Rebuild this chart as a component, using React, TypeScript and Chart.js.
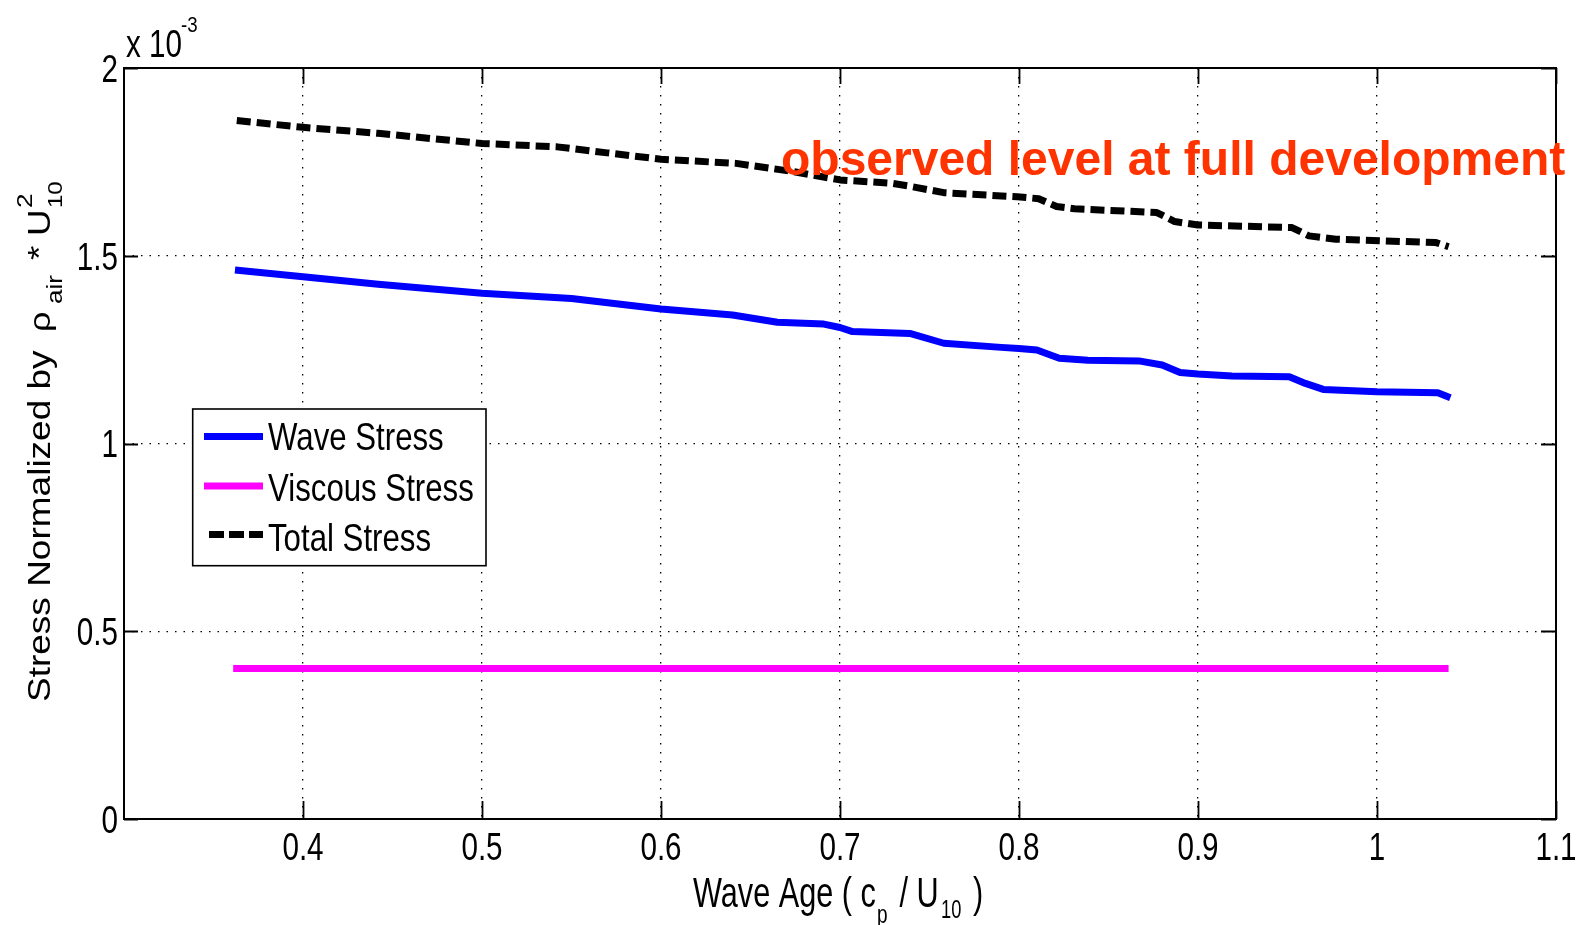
import { useEffect, useRef } from 'react';
import { Chart, registerables } from 'chart.js';

Chart.register(...registerables);

// ---- data (stress values in units of 1e-3) ----
const xTicks = [0.4, 0.5, 0.6, 0.7, 0.8, 0.9, 1.0, 1.1];
const xTickLabels = ['0.4', '0.5', '0.6', '0.7', '0.8', '0.9', '1', '1.1'];
const yTicks = [0, 0.5, 1, 1.5, 2];
const yTickLabels = ['0', '0.5', '1', '1.5', '2'];

const waveAgeWave = [0.362, 0.4, 0.442, 0.5, 0.55, 0.6, 0.64, 0.665, 0.691, 0.7, 0.707, 0.739, 0.758, 0.79, 0.8, 0.81, 0.8225, 0.8385, 0.867, 0.88, 0.89, 0.9, 0.919, 0.951, 0.96, 0.97, 1.0, 1.034, 1.041];
const waveStress = [1.462, 1.444, 1.424, 1.4, 1.386, 1.358, 1.342, 1.323, 1.318, 1.309, 1.298, 1.293, 1.267, 1.256, 1.253, 1.249, 1.227, 1.222, 1.22, 1.209, 1.189, 1.185, 1.18, 1.178, 1.16, 1.144, 1.138, 1.135, 1.122];

const waveAgeViscous = [0.361, 1.04];
const viscousStress = [0.401, 0.401];

const waveAgeTotal = [0.363, 0.4, 0.442, 0.5, 0.542, 0.57, 0.6, 0.642, 0.674, 0.7, 0.729, 0.738, 0.758, 0.799, 0.811, 0.821, 0.831, 0.877, 0.887, 0.9, 0.9525, 0.962, 0.977, 1.033, 1.04];
const totalStress = [1.86, 1.842, 1.826, 1.799, 1.79, 1.774, 1.757, 1.746, 1.724, 1.702, 1.693, 1.686, 1.668, 1.657, 1.652, 1.631, 1.625, 1.615, 1.591, 1.582, 1.575, 1.553, 1.544, 1.535, 1.524];

const seriesNames = ['Wave Stress', 'Viscous Stress', 'Total Stress'];
const seriesColors = ['#0000FF', '#FF00FF', '#000000'];
const annotationText = 'observed level at full development';

const FAMILY = "'Liberation Sans', Arial, Helvetica, sans-serif";

function zip(xs: number[], ys: number[]) {
  return xs.map((x, i) => ({ x, y: ys[i] }));
}

function txt(
  ctx: CanvasRenderingContext2D,
  t: string,
  x: number,
  y: number,
  size: number,
  sx: number,
  opts: { align?: CanvasTextAlign; rot?: boolean; bold?: boolean; color?: string } = {}
) {
  ctx.save();
  ctx.translate(x, y);
  if (opts.rot) {
    ctx.rotate(-Math.PI / 2);
    ctx.scale(1, sx);
  } else {
    ctx.scale(sx, 1);
  }
  ctx.font = `${opts.bold ? 'bold ' : ''}${size}px ${FAMILY}`;
  ctx.fillStyle = opts.color || '#000';
  ctx.textAlign = opts.align || 'left';
  ctx.textBaseline = 'alphabetic';
  ctx.fillText(t, 0, 0);
  ctx.restore();
}

const overlay = {
  id: 'matlabOverlay',
  afterDatasetsDraw(chart: any) {
    const { ctx, chartArea: a, scales } = chart;
    const xs = scales.x;
    const ys = scales.y;
    ctx.save();

    // box
    ctx.strokeStyle = '#000';
    ctx.lineWidth = 2;
    ctx.setLineDash([]);
    ctx.strokeRect(a.left, a.top, a.right - a.left, a.bottom - a.top);

    // inward tick marks
    ctx.lineWidth = 1.8;
    ctx.beginPath();
    xs.ticks.forEach((t: any) => {
      const px = Math.round(xs.getPixelForValue(t.value)) + 0.5;
      ctx.moveTo(px, a.bottom);
      ctx.lineTo(px, a.bottom - 18);
      ctx.moveTo(px, a.top);
      ctx.lineTo(px, a.top + 16);
    });
    ys.ticks.forEach((t: any) => {
      const py = Math.round(ys.getPixelForValue(t.value)) + 0.5;
      ctx.moveTo(a.left, py);
      ctx.lineTo(a.left + 14, py);
      ctx.moveTo(a.right, py);
      ctx.lineTo(a.right - 15, py);
    });
    ctx.stroke();

    // tick labels
    xs.ticks.forEach((t: any, i: number) => {
      const px = xs.getPixelForValue(t.value);
      txt(ctx, xTickLabels[i], px, a.bottom + 41, 39, 0.76, { align: 'center' });
    });
    ys.ticks.forEach((t: any, i: number) => {
      const py = ys.getPixelForValue(t.value);
      txt(ctx, yTickLabels[i], a.left - 6, py + 13.9, 39, 0.76, { align: 'right' });
    });

    // exponent label
    txt(ctx, 'x 10', a.left + 2, 56.7, 39, 0.76);
    txt(ctx, '-3', 181, 32, 22, 0.85);

    // x-axis title
    const bx = 907;
    txt(ctx, 'Wave Age ( c', 693, bx, 42, 0.73);
    txt(ctx, 'p', 877, bx + 16, 26, 0.73);
    txt(ctx, '/ U', 899.5, bx, 42, 0.73);
    txt(ctx, '10', 941, bx + 11, 25, 0.73);
    txt(ctx, ')', 973, bx, 42, 0.73);

    // y-axis title (rotated)
    const base = 50;
    const y0 = 702;
    const sy = 0.83;
    txt(ctx, 'Stress Normalized by', base, y0, 37, sy, { rot: true });
    txt(ctx, '\u03C1', base, y0 - 370, 36, sy, { rot: true });
    txt(ctx, 'air', base + 12, y0 - 398, 26, sy, { rot: true });
    txt(ctx, '*', base, y0 - 442, 37, sy, { rot: true });
    txt(ctx, 'U', base, y0 - 466, 37, sy, { rot: true });
    txt(ctx, '2', base - 18, y0 - 494, 26, sy, { rot: true });
    txt(ctx, '10', base + 12, y0 - 494, 24, sy, { rot: true });

    // legend
    const L = { x1: 192.7, y1: 409, x2: 486, y2: 565.7 };
    ctx.fillStyle = '#fff';
    ctx.fillRect(L.x1, L.y1, L.x2 - L.x1, L.y2 - L.y1);
    ctx.strokeStyle = '#000';
    ctx.lineWidth = 1.6;
    ctx.strokeRect(L.x1, L.y1, L.x2 - L.x1, L.y2 - L.y1);
    const rows = [436.5, 486, 534.5];
    const baselines = [450, 501, 551];
    rows.forEach((ry, i) => {
      ctx.save();
      ctx.strokeStyle = seriesColors[i];
      ctx.lineWidth = 7;
      ctx.lineCap = 'butt';
      if (i === 2) ctx.setLineDash([15, 5]);
      ctx.beginPath();
      ctx.moveTo(i === 2 ? 209 : 204, ry);
      ctx.lineTo(263, ry);
      ctx.stroke();
      ctx.restore();
      txt(ctx, seriesNames[i], 268, baselines[i], 39.5, 0.79);
    });

    // annotation
    txt(ctx, annotationText, 781, 175, 48, 1, { bold: true, color: '#FF3300' });

    ctx.restore();
  },
};

export default function App() {
  const ref = useRef<HTMLCanvasElement | null>(null);

  useEffect(() => {
    if (!ref.current) return;
    const chart = new Chart(ref.current, {
      type: 'line',
      data: {
        datasets: [
          {
            label: seriesNames[0],
            data: zip(waveAgeWave, waveStress),
            borderColor: seriesColors[0],
            borderWidth: 7,
            pointRadius: 0,
            tension: 0,
            borderCapStyle: 'butt',
            borderJoinStyle: 'round',
          },
          {
            label: seriesNames[1],
            data: zip(waveAgeViscous, viscousStress),
            borderColor: seriesColors[1],
            borderWidth: 7,
            pointRadius: 0,
            tension: 0,
            borderCapStyle: 'butt',
          },
          {
            label: seriesNames[2],
            data: zip(waveAgeTotal, totalStress),
            borderColor: seriesColors[2],
            borderWidth: 7,
            pointRadius: 0,
            tension: 0,
            borderDash: [14, 6],
            borderCapStyle: 'butt',
            borderJoinStyle: 'round',
          },
        ],
      },
      options: {
        animation: false,
        responsive: false,
        devicePixelRatio: 1,
        layout: { padding: { left: 0, right: 27, top: 68, bottom: 0 } },
        plugins: {
          legend: { display: false },
          tooltip: { enabled: false },
          title: { display: false },
        },
        scales: {
          x: {
            type: 'linear',
            min: 0.3,
            max: 1.1,
            afterBuildTicks: (scale: any) => {
              scale.ticks = xTicks.map((v) => ({ value: v }));
            },
            afterFit: (scale: any) => {
              scale.height = 106;
            },
            ticks: { display: false },
            grid: { color: '#000', lineWidth: 1.3, drawTicks: false },
            border: { display: false, dash: [1.5, 7.5] },
          },
          y: {
            type: 'linear',
            min: 0,
            max: 2,
            afterBuildTicks: (scale: any) => {
              scale.ticks = yTicks.map((v) => ({ value: v }));
            },
            afterFit: (scale: any) => {
              scale.width = 124;
            },
            ticks: { display: false },
            grid: { color: '#000', lineWidth: 1.3, drawTicks: false },
            border: { display: false, dash: [1.5, 7] },
          },
        },
      },
      plugins: [overlay],
    });
    return () => chart.destroy();
  }, []);

  return (
    <div style={{ position: 'fixed', left: 0, top: 0, width: 1583, height: 925, background: '#fff' }}>
      <canvas ref={ref} width={1583} height={925} style={{ display: 'block', width: 1583, height: 925 }} />
    </div>
  );
}
